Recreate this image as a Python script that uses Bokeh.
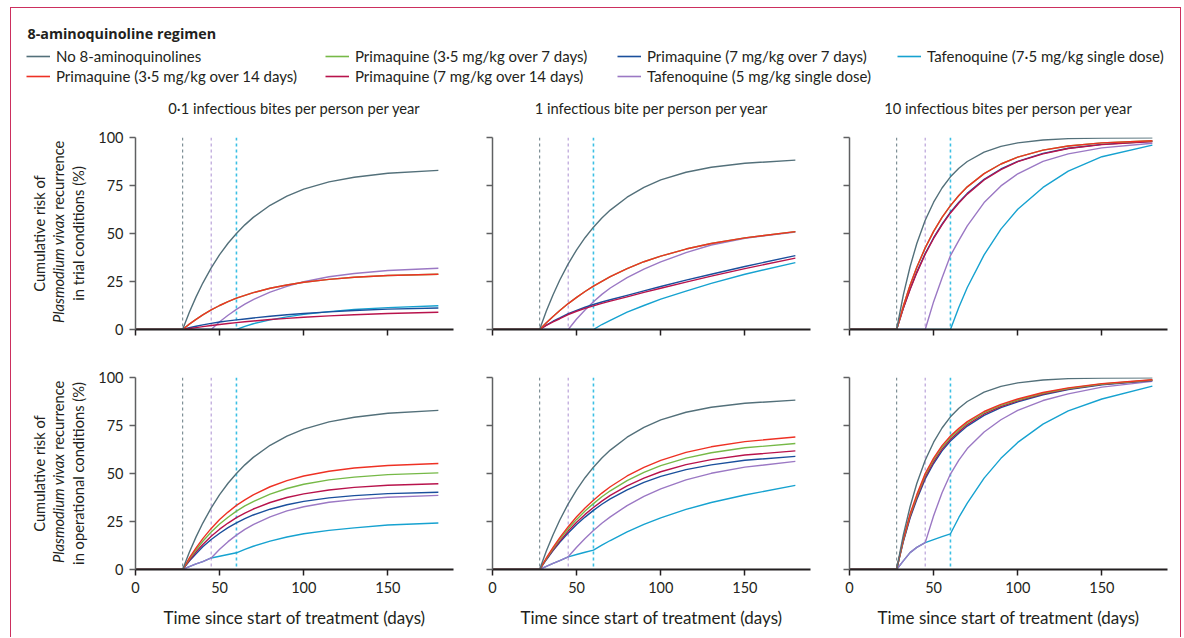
from math import pi
from bokeh.plotting import figure
from bokeh.layouts import row, column
from bokeh.models import Range1d, FixedTicker, Span, Label, Legend, LegendItem
from bokeh.embed import file_html
from bokeh.resources import INLINE

# ---------------- data ----------------
DAYS = [0, 28, 32, 36, 40, 45, 50, 55, 60, 65, 70, 80, 90, 100, 115, 130, 150, 180]
X_TICKS = [0, 50, 100, 150]
Y_TICKS = [0, 25, 50, 75, 100]
TREATMENT_END_DAYS = [28, 45, 60]

REGIMEN_KEYS = ["none", "pq35_7", "pq7_7", "tq75", "pq35_14", "pq7_14", "tq5"]
REGIMEN_LABELS = {
    "none": "No 8-aminoquinolines",
    "pq35_7": "Primaquine (3·5 mg/kg over 7 days)",
    "pq7_7": "Primaquine (7 mg/kg over 7 days)",
    "tq75": "Tafenoquine (7·5 mg/kg single dose)",
    "pq35_14": "Primaquine (3·5 mg/kg over 14 days)",
    "pq7_14": "Primaquine (7 mg/kg over 14 days)",
    "tq5": "Tafenoquine (5 mg/kg single dose)",
}
PANEL_TITLES = ["0·1 infectious bites per person per year",
                "1 infectious bite per person per year",
                "10 infectious bites per person per year"]
ROW_YLABELS = [["Cumulative risk of", "Plasmodium vivax", "recurrence", "in trial conditions (%)"],
               ["Cumulative risk of", "Plasmodium vivax", "recurrence", "in operational conditions (%)"]]
X_LABEL = "Time since start of treatment (days)"
LEGEND_TITLE = "8-aminoquinoline regimen"

# trial conditions, 0.1 bites/person/year
T01_NONE = [0, 0, 9.0, 17.0, 24.2, 32.1, 39.0, 44.9, 50.0, 54.5, 58.4, 64.7, 69.5, 73.1, 76.9, 79.3, 81.4, 82.9]
T01_PQ35_7 = [0, 0, 2.8, 5.3, 7.6, 10.2, 12.5, 14.5, 16.3, 17.8, 19.2, 21.5, 23.2, 24.6, 26.1, 27.2, 28.1, 28.8]
T01_PQ35_14 = [0, 0, 2.8, 5.3, 7.6, 10.2, 12.5, 14.5, 16.3, 17.8, 19.2, 21.5, 23.2, 24.6, 26.1, 27.2, 28.1, 28.8]
T01_PQ7_7 = [0, 0, 0.9, 1.7, 2.4, 3.2, 3.9, 4.5, 5.0, 5.5, 6.0, 6.9, 7.7, 8.3, 9.2, 9.9, 10.6, 11.2]
T01_PQ7_14 = [0, 0, 0.5, 1.0, 1.5, 2.1, 2.6, 3.1, 3.6, 4.0, 4.4, 5.2, 5.8, 6.4, 7.1, 7.7, 8.3, 9.0]
T01_TQ5 = [0, 0, 0, 0, 0, 0, 4.0, 7.4, 10.5, 13.2, 15.6, 19.5, 22.5, 24.9, 27.5, 29.2, 30.7, 31.9]
T01_TQ75 = [0, 0, 0, 0, 0, 0, 0, 0, 0, 1.6, 3.0, 5.0, 6.6, 7.9, 9.3, 10.4, 11.4, 12.4]

# trial conditions, 1 bite/person/year
T1_NONE = [0, 0, 9.6, 18.1, 25.8, 34.2, 41.5, 47.8, 53.3, 58.1, 62.2, 68.9, 74.0, 77.9, 81.9, 84.5, 86.6, 88.2]
T1_PQ35_7 = [0, 0, 3.5, 6.8, 9.9, 13.5, 16.7, 19.8, 22.6, 25.1, 27.5, 31.7, 35.3, 38.2, 41.9, 44.8, 47.7, 51.0]
T1_PQ35_14 = [0, 0, 3.5, 6.8, 9.9, 13.5, 16.7, 19.8, 22.6, 25.1, 27.5, 31.7, 35.3, 38.2, 41.9, 44.8, 47.7, 51.0]
T1_PQ7_7 = [0, 0, 2.3, 4.3, 6.0, 8.3, 10.0, 11.6, 13.0, 14.3, 15.5, 17.8, 20.1, 22.4, 25.7, 28.8, 32.8, 38.5]
T1_PQ7_14 = [0, 0, 2.1, 4.0, 5.6, 7.8, 9.5, 11.0, 12.3, 13.6, 14.8, 17.0, 19.3, 21.5, 24.7, 27.8, 31.7, 37.2]
T1_TQ5 = [0, 0, 0, 0, 0, 0, 5.5, 10.2, 14.5, 18.3, 21.6, 27.0, 31.5, 35.2, 40.0, 44.0, 47.5, 50.8]
T1_TQ75 = [0, 0, 0, 0, 0, 0, 0, 0, 0, 2.6, 4.8, 9.0, 12.5, 15.8, 20.0, 24.0, 28.8, 34.8]

# trial conditions, 10 bites/person/year
T10_NONE = [0, 0, 18.0, 32.7, 44.8, 56.9, 66.3, 73.7, 79.5, 84.0, 87.5, 92.4, 95.4, 97.2, 98.7, 99.4, 99.7, 99.8]
T10_PQ35_7 = [0, 0, 12.2, 23.0, 32.4, 42.5, 51.1, 58.4, 64.5, 69.8, 74.3, 81.2, 86.2, 89.8, 93.4, 95.6, 97.2, 98.3]
T10_PQ35_14 = [0, 0, 12.2, 23.0, 32.4, 42.5, 51.1, 58.4, 64.5, 69.8, 74.3, 81.2, 86.2, 89.8, 93.4, 95.6, 97.2, 98.3]
T10_PQ7_7 = [0, 0, 11.2, 21.1, 29.9, 39.6, 47.8, 54.9, 61.1, 66.3, 70.9, 78.2, 83.6, 87.6, 91.7, 94.4, 96.4, 98.0]
T10_PQ7_14 = [0, 0, 11.0, 20.8, 29.5, 39.2, 47.4, 54.5, 60.7, 65.9, 70.5, 77.9, 83.3, 87.4, 91.5, 94.3, 96.3, 97.9]
T10_TQ5 = [0, 0, 0, 0, 0, 0, 14.5, 26.8, 38.5, 46.4, 54.0, 66.1, 74.8, 81.1, 87.6, 91.5, 94.6, 97.0]
T10_TQ75 = [0, 0, 0, 0, 0, 0, 0, 0, 0, 11.6, 21.9, 38.9, 52.3, 62.6, 74.0, 82.5, 90.0, 96.0]

# operational conditions, 0.1 bites/person/year
O01_NONE = [0, 0, 9.0, 17.0, 24.2, 32.1, 39.0, 44.9, 50.0, 54.5, 58.4, 64.7, 69.5, 73.1, 76.9, 79.3, 81.4, 82.9]
O01_PQ35_7 = [0, 0, 5.5, 10.3, 14.7, 19.5, 23.7, 27.2, 30.4, 33.1, 35.4, 39.3, 42.2, 44.4, 46.7, 48.1, 49.4, 50.3]
O01_PQ35_14 = [0, 0, 6.0, 11.3, 16.1, 21.4, 26.0, 29.9, 33.4, 36.3, 38.9, 43.1, 46.3, 48.7, 51.2, 52.9, 54.2, 55.2]
O01_PQ7_7 = [0, 0, 4.4, 8.2, 11.8, 15.6, 18.9, 21.8, 24.3, 26.5, 28.4, 31.4, 33.7, 35.5, 37.3, 38.5, 39.5, 40.2]
O01_PQ7_14 = [0, 0, 4.8, 9.2, 13.0, 17.3, 21.0, 24.2, 27.0, 29.4, 31.5, 34.9, 37.5, 39.4, 41.4, 42.8, 43.9, 44.7]
O01_TQ5 = [0, 0, 1.5, 2.9, 4.1, 6.0, 10.6, 14.5, 17.9, 20.9, 23.4, 27.4, 30.5, 32.7, 35.0, 36.4, 37.6, 38.6]
O01_TQ75 = [0, 0, 1.5, 2.9, 4.1, 6.0, 6.9, 7.8, 8.7, 10.5, 12.1, 14.8, 16.9, 18.6, 20.4, 21.7, 23.2, 24.2]

# operational conditions, 1 bite/person/year
O1_NONE = [0, 0, 9.6, 18.1, 25.8, 34.2, 41.5, 47.8, 53.3, 58.1, 62.2, 68.9, 74.0, 77.9, 81.9, 84.5, 86.6, 88.2]
O1_PQ35_7 = [0, 0, 5.7, 10.9, 15.8, 21.2, 26.1, 30.5, 34.3, 37.9, 41.0, 46.3, 50.6, 54.1, 58.0, 60.8, 63.4, 65.6]
O1_PQ35_14 = [0, 0, 6.0, 11.5, 16.6, 22.3, 27.5, 32.0, 36.1, 39.8, 43.1, 48.7, 53.2, 56.8, 61.0, 63.9, 66.6, 69.0]
O1_PQ7_7 = [0, 0, 5.1, 9.8, 14.2, 19.0, 23.4, 27.3, 30.8, 34.0, 36.8, 41.5, 45.4, 48.5, 52.0, 54.5, 56.9, 58.9]
O1_PQ7_14 = [0, 0, 5.4, 10.3, 14.8, 20.0, 24.6, 28.7, 32.3, 35.6, 38.6, 43.6, 47.6, 50.9, 54.6, 57.2, 59.6, 61.8]
O1_TQ5 = [0, 0, 1.6, 3.2, 4.6, 6.6, 11.6, 16.2, 20.3, 24.1, 27.4, 33.3, 38.1, 42.0, 46.7, 50.1, 53.3, 56.3]
O1_TQ75 = [0, 0, 1.6, 3.2, 4.6, 6.6, 7.8, 9.0, 10.1, 12.7, 15.1, 19.6, 23.5, 26.9, 31.3, 34.9, 38.8, 43.8]

# operational conditions, 10 bites/person/year
O10_NONE = [0, 0, 18.0, 32.7, 44.8, 56.9, 66.3, 73.7, 79.5, 84.0, 87.5, 92.4, 95.4, 97.2, 98.7, 99.4, 99.7, 99.8]
O10_PQ35_7 = [0, 0, 15.5, 28.3, 38.2, 49.2, 57.2, 63.7, 68.7, 72.7, 76.3, 81.7, 85.5, 88.3, 91.8, 94.3, 96.6, 98.7]
O10_PQ35_14 = [0, 0, 16.0, 29.0, 39.0, 50.0, 58.0, 64.5, 69.5, 73.5, 77.0, 82.3, 86.0, 88.8, 92.2, 94.6, 96.8, 98.8]
O10_PQ7_7 = [0, 0, 14.5, 26.8, 36.5, 47.2, 55.2, 61.8, 66.9, 71.0, 74.7, 80.3, 84.3, 87.3, 91.0, 93.7, 96.2, 98.4]
O10_PQ7_14 = [0, 0, 15.0, 27.5, 37.3, 48.2, 56.2, 62.7, 67.8, 71.8, 75.5, 81.0, 84.9, 87.8, 91.4, 94.0, 96.4, 98.6]
O10_TQ5 = [0, 0, 4.5, 8.8, 11.5, 14.0, 28.0, 40.0, 49.7, 57.0, 63.0, 71.6, 78.0, 82.9, 88.0, 91.5, 95.0, 98.0]
O10_TQ75 = [0, 0, 4.5, 8.8, 11.5, 14.0, 15.6, 17.1, 18.6, 27.1, 34.6, 47.6, 57.9, 66.2, 75.7, 82.6, 88.8, 95.5]

PANELS = [
    [dict(none=T01_NONE, pq35_7=T01_PQ35_7, pq35_14=T01_PQ35_14, pq7_7=T01_PQ7_7, pq7_14=T01_PQ7_14, tq5=T01_TQ5, tq75=T01_TQ75),
     dict(none=T1_NONE, pq35_7=T1_PQ35_7, pq35_14=T1_PQ35_14, pq7_7=T1_PQ7_7, pq7_14=T1_PQ7_14, tq5=T1_TQ5, tq75=T1_TQ75),
     dict(none=T10_NONE, pq35_7=T10_PQ35_7, pq35_14=T10_PQ35_14, pq7_7=T10_PQ7_7, pq7_14=T10_PQ7_14, tq5=T10_TQ5, tq75=T10_TQ75)],
    [dict(none=O01_NONE, pq35_7=O01_PQ35_7, pq35_14=O01_PQ35_14, pq7_7=O01_PQ7_7, pq7_14=O01_PQ7_14, tq5=O01_TQ5, tq75=O01_TQ75),
     dict(none=O1_NONE, pq35_7=O1_PQ35_7, pq35_14=O1_PQ35_14, pq7_7=O1_PQ7_7, pq7_14=O1_PQ7_14, tq5=O1_TQ5, tq75=O1_TQ75),
     dict(none=O10_NONE, pq35_7=O10_PQ35_7, pq35_14=O10_PQ35_14, pq7_7=O10_PQ7_7, pq7_14=O10_PQ7_14, tq5=O10_TQ5, tq75=O10_TQ75)],
]

# ---------------- style ----------------
FONT = "Lato"
TITLE_FONT = "Open Sans"
INK = "#231f20"
YAXIS_COLOR = "#5f6062"
FRAME_COLOR = "#cc2f5e"
COLORS = {
    "none": "#53707a",
    "pq35_7": "#76b947",
    "pq7_7": "#1a4f9c",
    "tq75": "#16a2d0",
    "pq35_14": "#ee3124",
    "pq7_14": "#b8134c",
    "tq5": "#9b78c4",
}
DRAW_ORDER = ["tq75", "tq5", "pq7_7", "pq7_14", "pq35_7", "pq35_14", "none"]
DASH_COLORS = ["#7f9097", "#b9a2d9", "#3cc0e4"]
DASH_WIDTHS = [1.2, 1.2, 1.6]
X_END = 189

YLAB_W = 85
COL_W = [469 - YLAB_W, 357, 345]
COL_MBL = [40, 13, 13]
COL_MBR = [26, 26, 14]
ROW_H = [235, 284]
ROW_MBT = [19, 24]
ROW_MBB = [24, 68]
HEADER_H = 111
TOTAL_W = YLAB_W + sum(COL_W)
FRAME_W = 318


def style_fig(p):
    p.grid.visible = False
    p.outline_line_color = None
    p.background_fill_alpha = 0
    p.border_fill_alpha = 0


def make_ylabel(r):
    p = figure(width=YLAB_W, height=ROW_H[r], x_range=Range1d(0, 1), y_range=Range1d(0, 1),
               x_axis_type=None, y_axis_type=None, min_border=0,
               output_backend="svg", toolbar_location=None)
    style_fig(p)
    # the frame of this figure is aligned with the panels' frames in its row
    mid = (ROW_H[r] - ROW_MBT[r] - ROW_MBB[r]) / 2
    lines = ROW_YLABELS[r]
    common = dict(x_units="screen", y_units="screen", angle=pi / 2,
                  text_font=FONT, text_font_size="14.7px", text_color=INK,
                  text_baseline="middle")
    p.add_layout(Label(x=28, y=mid, text=lines[0], text_align="center", **common))
    p.add_layout(Label(x=47, y=mid + 20, text=lines[1], text_align="right",
                       text_font_style="italic", **common))
    p.add_layout(Label(x=47, y=mid + 23.8, text=lines[2], text_align="left", **common))
    p.add_layout(Label(x=67, y=mid, text=lines[3], text_align="center", **common))
    return p


def make_panel(r, c):
    p = figure(width=COL_W[c], height=ROW_H[r],
               x_range=Range1d(0, X_END), y_range=Range1d(0, 100),
               output_backend="svg", toolbar_location=None,
               min_border_left=COL_MBL[c], min_border_right=COL_MBR[c],
               min_border_top=ROW_MBT[r], min_border_bottom=ROW_MBB[r])
    style_fig(p)

    for d, col, w in zip(TREATMENT_END_DAYS, DASH_COLORS, DASH_WIDTHS):
        p.add_layout(Span(location=d, dimension="height", line_color=col,
                          line_width=w, line_dash="3 3", level="underlay"))

    series = PANELS[r][c]
    for key in DRAW_ORDER:
        p.line(DAYS, series[key], line_color=COLORS[key], line_width=1.4,
               line_join="round")

    xa = p.xaxis[0]
    xa.ticker = FixedTicker(ticks=X_TICKS)
    xa.axis_line_color = INK
    xa.axis_line_width = 2
    xa.major_tick_line_color = INK
    xa.major_tick_line_width = 1.5
    xa.major_tick_out = 6
    xa.major_tick_in = 0
    xa.minor_tick_line_color = None
    xa.major_label_text_font = FONT
    xa.major_label_text_color = INK
    xa.major_label_text_font_size = "14.5px"
    xa.major_label_standoff = 6
    if r == 1:
        xa.axis_label = X_LABEL
        xa.axis_label_text_font = FONT
        xa.axis_label_text_font_size = "17px"
        xa.axis_label_text_font_style = "normal"
        xa.axis_label_text_color = INK
        xa.axis_label_standoff = 11
    else:
        xa.major_label_overrides = {t: "" for t in X_TICKS}

    ya = p.yaxis[0]
    ya.ticker = FixedTicker(ticks=Y_TICKS)
    ya.axis_line_color = YAXIS_COLOR
    ya.axis_line_width = 1.5
    ya.major_tick_line_color = YAXIS_COLOR
    ya.major_tick_line_width = 1.5
    ya.major_tick_out = 6
    ya.major_tick_in = 0
    ya.minor_tick_line_color = None
    ya.major_label_text_font = FONT
    ya.major_label_text_color = INK
    ya.major_label_text_font_size = "14.5px"
    ya.major_label_standoff = 6
    if c != 0:
        ya.major_label_overrides = {t: "" for t in Y_TICKS}
    return p


# ---------------- header (legend title, legend, panel titles) ----------------
hdr = figure(width=TOTAL_W, height=HEADER_H, x_range=Range1d(0, 1), y_range=Range1d(0, 1),
             x_axis_type=None, y_axis_type=None, min_border=0,
             output_backend="svg", toolbar_location=None)
style_fig(hdr)
hdr.add_layout(Label(x=17, y=HEADER_H - 25.5, x_units="screen", y_units="screen",
                     text=LEGEND_TITLE, text_font=TITLE_FONT, text_font_size="14.3px",
                     text_font_style="bold", text_color=INK, text_baseline="middle"))

# single-point lines: nothing is drawn in the header, they only feed the legend glyphs
renderers = {k: hdr.line(x=[DAYS[0]], y=[PANELS[0][0][k][0]], line_color=COLORS[k], line_width=1.6)
             for k in REGIMEN_KEYS}
LEGEND_COLUMNS = [["none", "pq35_14"], ["pq35_7", "pq7_14"], ["pq7_7", "tq5"], ["tq75"]]
LEGEND_X = [16, 315, 607, 887]
for keys, lx in zip(LEGEND_COLUMNS, LEGEND_X):
    items = [LegendItem(label=REGIMEN_LABELS[k], renderers=[renderers[k]]) for k in keys]
    ly = HEADER_H - 39 - 20 * len(keys)
    lg = Legend(items=items, location=(lx, ly), orientation="vertical",
                border_line_color=None, background_fill_alpha=0,
                padding=0, margin=0, spacing=0,
                label_height=20, glyph_height=20, glyph_width=24, label_standoff=6,
                label_text_font=FONT, label_text_font_size="15px", label_text_color=INK)
    hdr.add_layout(lg)

# panel titles, centred over each panel's frame
x0 = YLAB_W
for c in range(3):
    cx = x0 + COL_MBL[c] + FRAME_W / 2
    hdr.add_layout(Label(x=cx, y=10.5, x_units="screen", y_units="screen",
                         text=PANEL_TITLES[c], text_font=FONT, text_font_size="14.7px",
                         text_color=INK, text_align="center", text_baseline="middle"))
    x0 += COL_W[c]

grid_rows = [row(make_ylabel(r), *[make_panel(r, c) for c in range(3)]) for r in range(2)]

shadow = (f"inset 1px 0 0 0 {FRAME_COLOR}, inset -1px 0 0 0 {FRAME_COLOR}, "
          f"inset 0 1px 0 0 {FRAME_COLOR}")
layout = column(hdr, *grid_rows, margin=(7, 0, 0, 10), styles={"box-shadow": shadow})

with open("out.html", "w") as f:
    f.write(file_html(layout, INLINE))
